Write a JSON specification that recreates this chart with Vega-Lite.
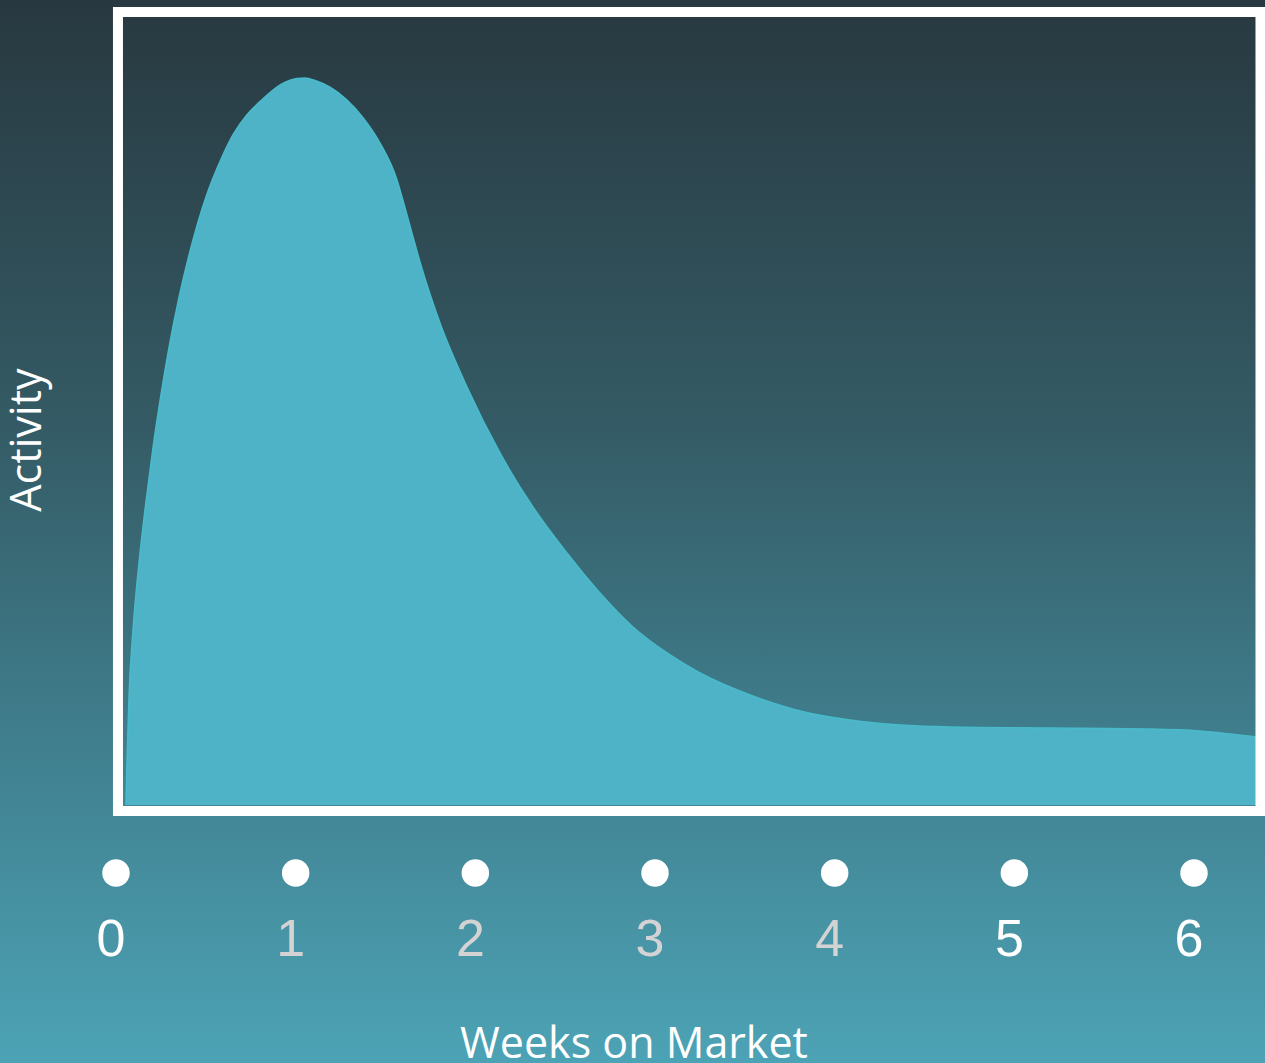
{
  "$schema": "https://vega.github.io/schema/vega-lite/v6.json",
  "width": 1265,
  "height": 1063,
  "autosize": {"type": "none"},
  "padding": 0,
  "background": "#2b3d45",
  "config": {"view": {"stroke": null}},
  "datasets": {
    "curve": [
      {"week": 0.0557, "activity": 0},
      {"week": 0.0612, "activity": 5.78},
      {"week": 0.0724, "activity": 14.86},
      {"week": 0.0946, "activity": 24.07},
      {"week": 0.128, "activity": 33.29},
      {"week": 0.1703, "activity": 42.37},
      {"week": 0.2065, "activity": 49.24},
      {"week": 0.2482, "activity": 56.12},
      {"week": 0.2955, "activity": 62.99},
      {"week": 0.3512, "activity": 69.88},
      {"week": 0.4286, "activity": 77.72},
      {"week": 0.5009, "activity": 83.63},
      {"week": 0.59, "activity": 89.13},
      {"week": 0.654, "activity": 92.3},
      {"week": 0.728, "activity": 94.91},
      {"week": 0.8171, "activity": 97.11},
      {"week": 0.9184, "activity": 99.11},
      {"week": 1.0074, "activity": 99.93},
      {"week": 1.0519, "activity": 100},
      {"week": 1.1076, "activity": 99.66},
      {"week": 1.1911, "activity": 98.73},
      {"week": 1.2857, "activity": 96.97},
      {"week": 1.3748, "activity": 94.55},
      {"week": 1.4694, "activity": 91.06},
      {"week": 1.564, "activity": 85.97},
      {"week": 1.5918, "activity": 83.63},
      {"week": 1.653, "activity": 78.13},
      {"week": 1.692, "activity": 74.69},
      {"week": 1.8033, "activity": 66.3},
      {"week": 1.9536, "activity": 57.5},
      {"week": 2.1372, "activity": 48.42},
      {"week": 2.3209, "activity": 40.99},
      {"week": 2.5102, "activity": 34.66},
      {"week": 2.6938, "activity": 29.16},
      {"week": 2.8775, "activity": 24.48},
      {"week": 3.0667, "activity": 20.91},
      {"week": 3.2504, "activity": 18.16},
      {"week": 3.5287, "activity": 15.13},
      {"week": 3.807, "activity": 12.93},
      {"week": 4.0853, "activity": 11.69},
      {"week": 4.3636, "activity": 11.0},
      {"week": 4.6418, "activity": 10.73},
      {"week": 5.1984, "activity": 10.59},
      {"week": 5.755, "activity": 10.45},
      {"week": 6.0333, "activity": 10.18},
      {"week": 6.2003, "activity": 9.77},
      {"week": 6.3506, "activity": 9.35}
    ],
    "weeks": [
      {"week": 0}, {"week": 1}, {"week": 2}, {"week": 3}, {"week": 4}, {"week": 5}, {"week": 6}
    ]
  },
  "layer": [
    {
      "data": {"values": [{}]},
      "mark": {
        "type": "rect",
        "fill": {
          "gradient": "linear", "x1": 0, "y1": 0, "x2": 0, "y2": 1,
          "stops": [
            {"offset": 0, "color": "#283840"},
            {"offset": 0.4, "color": "#345b65"},
            {"offset": 0.75, "color": "#428595"},
            {"offset": 1, "color": "#4ca3b5"}
          ]
        }
      },
      "encoding": {
        "x": {"value": 0}, "x2": {"value": "width"},
        "y": {"value": 0}, "y2": {"value": "height"}
      }
    },
    {
      "data": {"name": "curve"},
      "mark": {"type": "area", "interpolate": "monotone", "color": "#4fb3c7", "opacity": 1, "line": {"color": "#48bbcb", "strokeWidth": 1.5}},
      "encoding": {
        "x": {"field": "week", "type": "quantitative", "axis": null,
              "scale": {"domain": [-0.6456, 6.3951], "nice": false, "zero": false}},
        "y": {"field": "activity", "type": "quantitative", "axis": null,
              "scale": {"domain": [-35.49, 110.73], "nice": false, "zero": false}}
      }
    },
    {
      "data": {"values": [{}]},
      "mark": {"type": "rect", "filled": false, "stroke": "#ffffff", "strokeWidth": 10},
      "encoding": {
        "x": {"datum": 0.011, "type": "quantitative"},
        "x2": {"datum": 6.37},
        "y": {"datum": 109.08, "type": "quantitative"},
        "y2": {"datum": -0.83}
      }
    },
    {
      "data": {"name": "weeks"},
      "mark": {"type": "point", "filled": true, "color": "#ffffff", "opacity": 1, "size": 755, "strokeWidth": 0},
      "encoding": {
        "x": {"field": "week", "type": "quantitative"},
        "y": {"datum": -9.35, "type": "quantitative"}
      }
    },
    {
      "data": {"name": "weeks"},
      "mark": {"type": "text", "font": "Liberation Sans", "fontSize": 52, "baseline": "middle", "align": "center", "dx": -5},
      "encoding": {
        "x": {"field": "week", "type": "quantitative"},
        "y": {"datum": -18.57, "type": "quantitative"},
        "text": {"field": "week", "type": "nominal"},
        "color": {
          "condition": {"test": "datum.week >= 1 && datum.week <= 4", "value": "#d3d3d3"},
          "value": "#ffffff"
        }
      }
    },
    {
      "data": {"values": [{"label": "Weeks on Market"}]},
      "mark": {"type": "text", "font": "Open Sans", "fontSize": 43, "color": "#ffffff", "align": "center", "baseline": "alphabetic"},
      "encoding": {
        "x": {"datum": 2.883, "type": "quantitative"},
        "y": {"datum": -34.8, "type": "quantitative"},
        "text": {"field": "label"}
      }
    },
    {
      "data": {"values": [{"label": "Activity"}]},
      "mark": {"type": "text", "font": "Open Sans", "fontSize": 43, "color": "#ffffff", "align": "center", "baseline": "middle", "angle": 270},
      "encoding": {
        "x": {"datum": -0.49, "type": "quantitative"},
        "y": {"datum": 50.2, "type": "quantitative"},
        "text": {"field": "label"}
      }
    }
  ]
}
